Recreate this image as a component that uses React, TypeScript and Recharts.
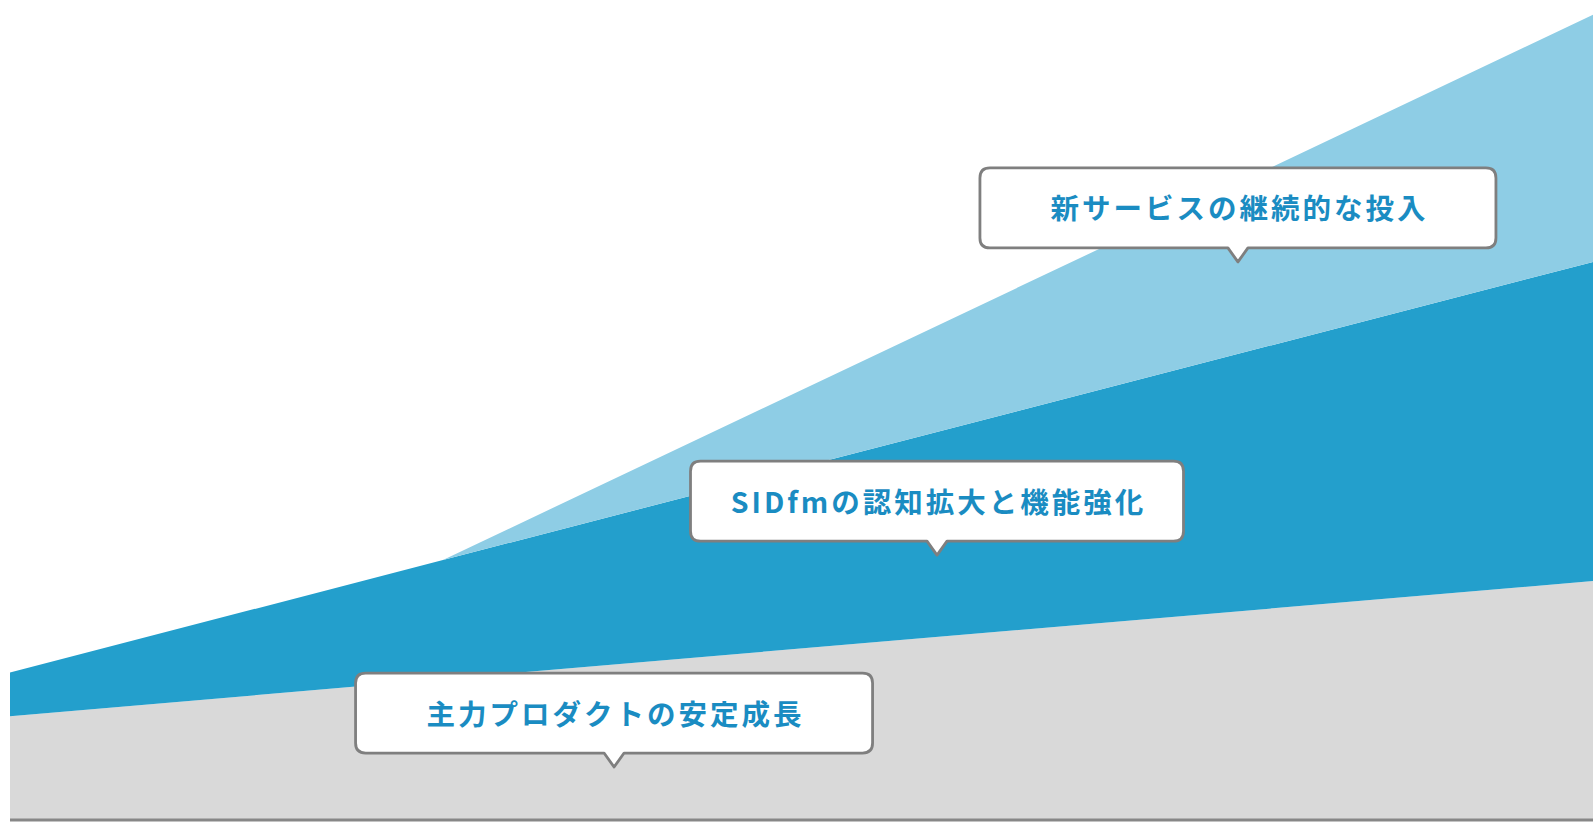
import { AreaChart, Area, XAxis, YAxis, ReferenceLine, ReferenceDot } from 'recharts';

// growth illustration: three stacked layers
const positions = [0, 27.35, 100];
const coreProducts = [12.8, 17.4, 29.5];
const sidfm = [5.4, 14.7, 39.4];
const newServices = [0, 0, 30.5];

const calloutLabels = ['新サービスの継続的な投入', 'SIDfmの認知拡大と機能強化', '主力プロダクトの安定成長'];
const calloutX = [77.57, 58.56, 38.16];
const calloutY = [68.9, 32.7, 6.54];

const data = positions.map((x, i) => ({
  x,
  core: coreProducts[i],
  sidfm: sidfm[i],
  fresh: newServices[i],
}));

const boxWidths = [516, 493, 517];
const BOX_H = 80;
const TIP_H = 14;
const TIP_W = 10;
const R = 10;

function Callout({ cx, cy, label, width }: { cx: number; cy: number; label: string; width: number }) {
  const left = cx - width / 2;
  const right = cx + width / 2;
  const bottom = cy - TIP_H;
  const top = bottom - BOX_H;
  const d = [
    `M ${left + R} ${top}`,
    `L ${right - R} ${top}`,
    `Q ${right} ${top} ${right} ${top + R}`,
    `L ${right} ${bottom - R}`,
    `Q ${right} ${bottom} ${right - R} ${bottom}`,
    `L ${cx + TIP_W} ${bottom}`,
    `L ${cx} ${cy}`,
    `L ${cx - TIP_W} ${bottom}`,
    `L ${left + R} ${bottom}`,
    `Q ${left} ${bottom} ${left} ${bottom - R}`,
    `L ${left} ${top + R}`,
    `Q ${left} ${top} ${left + R} ${top}`,
    'Z',
  ].join(' ');
  return (
    <g>
      <path d={d} fill="#ffffff" stroke="#7f7f7f" strokeWidth={2.8} strokeLinejoin="round" />
      <text
        x={cx + 1.5}
        y={top + BOX_H / 2 - 1}
        textAnchor="middle"
        dominantBaseline="central"
        fill="#1a8cc2"
        fontSize={28.5}
        fontWeight={700}
        letterSpacing={3}
        fontFamily="'Noto Sans CJK JP', 'Noto Sans', sans-serif"
      >
        {label}
      </text>
    </g>
  );
}

export default function App() {
  return (
    <div style={{ position: 'absolute', left: 0, top: 0, background: '#ffffff' }}>
      <AreaChart width={1593} height={828} data={data} margin={{ top: 10, right: 0, left: 10, bottom: 8 }}>
        <XAxis dataKey="x" type="number" domain={[0, 100]} hide />
        <YAxis type="number" domain={[0, 100]} hide allowDataOverflow />
        <Area
          type="linear"
          dataKey="core"
          stackId="g"
          stroke="none"
          fill="#d9d9d9"
          fillOpacity={1}
          isAnimationActive={false}
        />
        <Area
          type="linear"
          dataKey="sidfm"
          stackId="g"
          stroke="none"
          fill="#239fcc"
          fillOpacity={1}
          isAnimationActive={false}
        />
        <Area
          type="linear"
          dataKey="fresh"
          stackId="g"
          stroke="none"
          fill="#8ecde5"
          fillOpacity={1}
          isAnimationActive={false}
        />
        <ReferenceLine y={0} stroke="#878787" strokeWidth={3} />
        {calloutLabels.map((label, i) => (
          <ReferenceDot
            key={label}
            x={calloutX[i]}
            y={calloutY[i]}
            ifOverflow="visible"
            shape={(p: any) => <Callout cx={p.cx} cy={p.cy} label={label} width={boxWidths[i]} />}
          />
        ))}
      </AreaChart>
    </div>
  );
}
